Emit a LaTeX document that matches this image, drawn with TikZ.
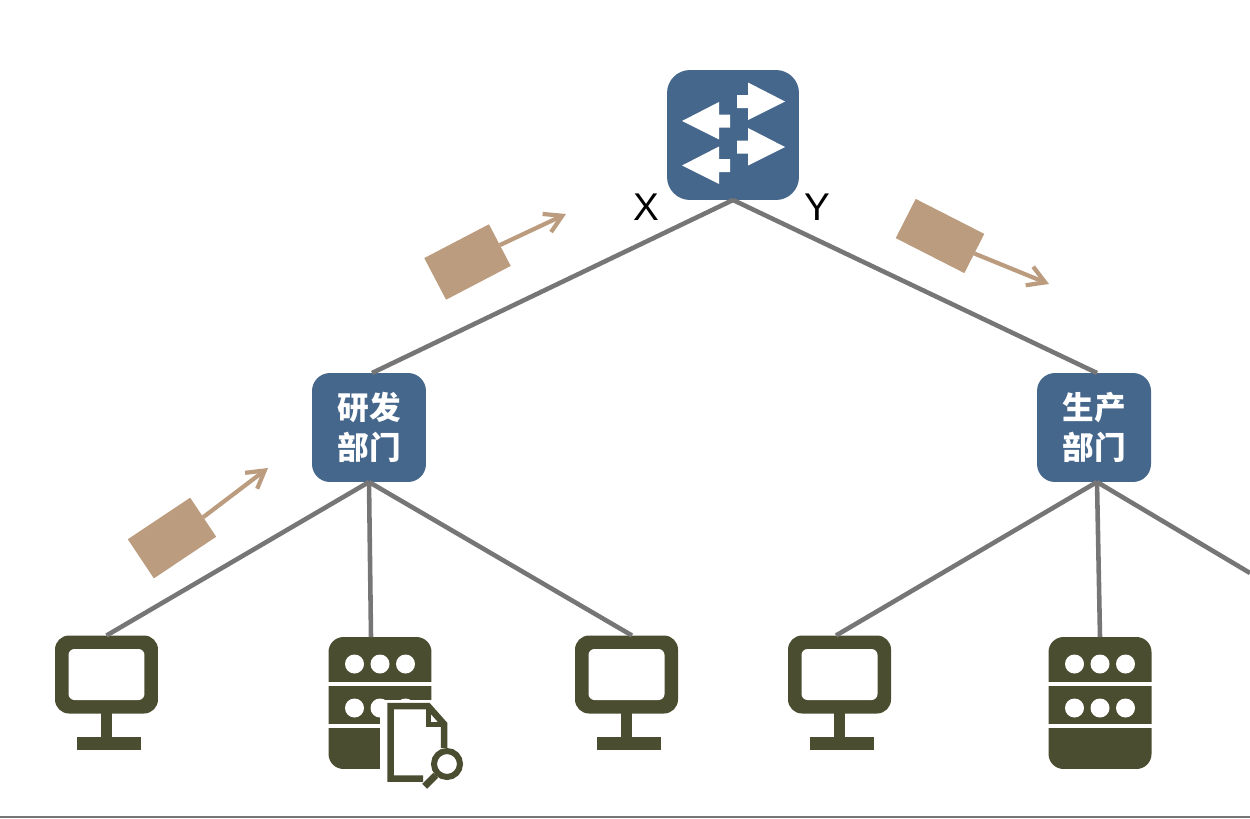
\documentclass[tikz,border=0pt]{standalone}
\usepackage{fontspec}
\usetikzlibrary{arrows.meta}
\setmainfont{Liberation Sans}
\newfontfamily\cjk{Noto Sans CJK SC}
\definecolor{swblue}{HTML}{46678C}
\definecolor{hostolive}{HTML}{4B4D30}
\definecolor{pkttan}{HTML}{BB9C7E}
\definecolor{linkgray}{HTML}{767676}
\tikzset{
    link/.style={draw=linkgray, line width=2.6pt},
    dept/.style={rectangle, fill=swblue, rounded corners=0.36cm, minimum width=2.28cm, minimum height=2.18cm, inner sep=0pt, outer sep=0pt, text=white, align=center, font=\cjk\bfseries\fontsize{18}{22.7}\selectfont},
    pkt/.style={rectangle, fill=pkttan, inner sep=0pt, outer sep=0pt},
    pktarrow/.style={draw=pkttan, line width=2.4pt, -{Straight Barb[length=3.4mm, width=4mm]}},
    portlabel/.style={inner sep=0pt, font=\fontsize{22}{24}\selectfont},
    pcbox/.style={rectangle, fill=hostolive, rounded corners=0.28cm, minimum width=2.06cm, minimum height=1.56cm, inner sep=0pt, outer sep=0pt},
    pcscreen/.style={rectangle, fill=white, rounded corners=0.12cm, minimum width=1.52cm, minimum height=1.02cm, inner sep=0pt, outer sep=0pt},
    srvbox/.style={rectangle, fill=hostolive, rounded corners=0.3cm, minimum width=2.06cm, minimum height=2.64cm, inner sep=0pt, outer sep=0pt},
    pcicon/.pic={
        \node[pcbox] (-box) at (0,0) {};
        \node[pcscreen] (-screen) at (0,0) {};
        \fill[hostolive] (-5.5,38) rectangle (5.5,63);
        \fill[hostolive] (-30,62.5) rectangle (34,75.5);
    },
    srvicon/.pic={
        \node[srvbox] (-box) at (0,0) {};
        \draw[white, line width=0.08cm] (-52,-19.5) -- (52,-19.5);
        \draw[white, line width=0.08cm] (-52,23) -- (52,23);
        \foreach \cx in {-25.5,0,25.5} {
            \fill[white] (\cx,-39) circle (9.5);
            \fill[white] (\cx,5) circle (9.5);
        }
    }
}
\begin{document}
\begin{tikzpicture}[x=0.02cm, y=-0.02cm]
    \useasboundingbox (0,0) rectangle (1250,818);
    % switch
    \node[rectangle, fill=swblue, rounded corners=0.46cm, minimum width=2.64cm, minimum height=2.6cm, inner sep=0pt, outer sep=0pt] (switch) at (733,135) {};
    \foreach \px/\py/\s in {737/101.5/1, 737/147/1, 730/121/-1, 730/165.5/-1}
        \fill[white, shift={(\px,\py)}, xscale=\s] (0,-6.5) -- (11,-6.5) -- (11,-19) -- (48,0) -- (11,18.5) -- (11,6.5) -- (0,6.5) -- cycle;
    \node[portlabel] (portx) at (646,207) {X};
    \node[portlabel] (porty) at (817,207) {Y};
    % departments
    \node[dept] (rnd) at (369,427.5) {\raisebox{-1pt}{研发}\\\raisebox{-1pt}{部门}};
    \node[dept] (prod) at (1094,427.5) {\raisebox{-1pt}{生产}\\\raisebox{-1pt}{部门}};
    % hosts
    \pic (pca) at (106.5,674.5) {pcicon};
    \pic (srva) at (380,703) {srvicon};
    \pic (pcb) at (626.5,674.5) {pcicon};
    \pic (pcc) at (839.5,674.5) {pcicon};
    \pic (srvb) at (1100,703) {srvicon};
    % file with magnifier on top of the first server
    \fill[white] (380,700) rectangle (470,792);
    \node[circle, draw=hostolive, line width=0.12cm, minimum size=0.52cm, inner sep=0pt] (lens) at (447,764) {};
    \draw[hostolive, line width=0.13cm] (444,748) -- (444,724) -- (428,706) -- (390.5,706) -- (390.5,778.5) -- (423,778.5);
    \draw[hostolive, line width=0.1cm] (428,706) -- (428,724) -- (444,724);
    \draw[hostolive, line width=0.14cm] (lens.south west) -- ++(-11,11);
    % packets
    \node[pkt, minimum width=1.46cm, minimum height=0.94cm, rotate=27.6] (pkta) at (467.5,262) {};
    \node[pkt, minimum width=1.54cm, minimum height=0.88cm, rotate=-27] (pktb) at (940,236) {};
    \node[pkt, minimum width=1.5cm, minimum height=0.94cm, rotate=33.7] (pktc) at (172,538) {};
    \coordinate (pkta end) at (566,214);
    \coordinate (pktb end) at (1049,284);
    \coordinate (pktc end) at (268,468);
    \draw[pktarrow] (pkta.east) -- (pkta end);
    \draw[pktarrow] (pktb.east) -- (pktb end);
    \draw[pktarrow] (pktc.east) -- (pktc end);
    % links
    \coordinate (offpage) at (1250,573);
    \draw[link] (switch.south) -- ([xshift=0.06cm]rnd.north);
    \draw[link] (switch.south) -- ([xshift=0.06cm]prod.north);
    \draw[link] (rnd.south) -- (pca-box.north);
    \draw[link] (rnd.south) -- ([xshift=-0.18cm]srva-box.north);
    \draw[link] (rnd.south) -- ([xshift=0.11cm]pcb-box.north);
    \draw[link] ([xshift=0.06cm]prod.south) -- ([xshift=-0.07cm]pcc-box.north);
    \draw[link] ([xshift=0.06cm]prod.south) -- (srvb-box.north);
    \draw[link] ([xshift=0.06cm]prod.south) -- (offpage);
    % bottom edge
    \fill[linkgray] (0,816) rectangle (1250,818);
\end{tikzpicture}
\end{document}
